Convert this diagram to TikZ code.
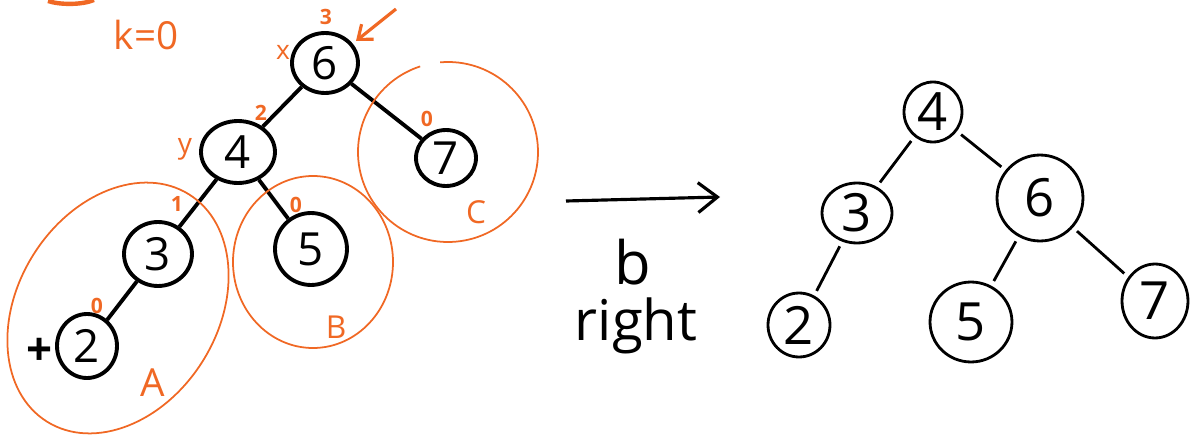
\documentclass[tikz,border=0pt]{standalone}
\usepackage{fontspec}
\setmainfont{Open Sans}
\usetikzlibrary{arrows.meta,positioning,shapes.geometric}
\definecolor{marker}{RGB}{240,104,36}
\tikzset{
    treenode/.style={draw, ellipse, line width=2.2pt, inner sep=0pt, font=\fontsize{26}{26}\selectfont},
    newnode/.style={draw, ellipse, line width=1.6pt, inner sep=0pt, font=\fontsize{30}{30}\selectfont},
    dims/.style 2 args={minimum width=#1*0.04cm, minimum height=#2*0.04cm},
    tree/.style={line width=2.2pt},
    newtree/.style={line width=1.6pt, shorten <=3pt, shorten >=3pt},
    note/.style={marker, font=\fontsize{12}{12}\selectfont\bfseries},
    group/.style={marker, line width=1pt},
}

\begin{document}
\begin{tikzpicture}[x=0.02cm, y=-0.02cm]
    \useasboundingbox (0,0) rectangle (1191,436);

    % Left tree, before the rotation
    \node[treenode, dims={33}{30}] (l6) at (325,63) {6};
    \node[treenode, dims={37}{31}] (l4) at (238,152) {4};
    \node[treenode, dims={30}{28}] (l7) at (446,158) {7};
    \node[treenode, dims={34}{32}] (l3) at (158,254) {3};
    \node[treenode, dims={36}{36}] (l5) at (311,249) {5};
    \node[treenode, dims={30}{32}] (l2) at (87,346) {2};
    \draw[tree] (l6) -- (l4);
    \draw[tree] (l6) -- (l7);
    \draw[tree] (l4) -- (l3);
    \draw[tree] (l4) -- (l5);
    \draw[tree] (l3) -- (l2);
    \node[font=\fontsize{26}{26}\selectfont\bfseries] (plus) at (40,352) {+};

    % Heights and names
    \node[note, font=\fontsize{22}{22}\selectfont] (krank) at (146,35) {k=0};
    \node[note] (h6) at (326,17) {3};
    \node[note, font=\fontsize{15}{15}\selectfont] (nx) at (283,52) {x};
    \node[note] (h4) at (261,113) {2};
    \node[note, font=\fontsize{16}{16}\selectfont] (ny) at (185,149) {y};
    \node[note] (h3) at (177,204) {1};
    \node[note] (h5) at (296,205) {0};
    \node[note] (h2) at (97,306) {0};
    \node[note] (h7) at (427,119) {0};

    % Arrow at the unbalanced node
    \coordinate (pstart) at (396,9);
    \coordinate (pend) at (356,41);
    \draw[marker, line width=1.8pt, -{Straight Barb[length=7pt, width=11pt]}] (pstart) -- (pend);

    % Subtrees
    \draw[group, rotate around={-32:(118,308)}] (118,308) ellipse [x radius=100, y radius=134];
    \draw[group] (313,262) ellipse [x radius=80, y radius=86];
    \draw[group] (448,152) ++(-95:90) arc [start angle=-95, end angle=252, radius=90];
    \node[note, font=\fontsize{22}{22}\selectfont] (ga) at (153,383) {A};
    \node[note, font=\fontsize{18}{18}\selectfont] (gb) at (336,327) {B};
    \node[note, font=\fontsize{18}{18}\selectfont] (gc) at (476,212) {C};

    % Cut-off mark at the top
    \draw[marker, line width=2.5pt] (48,1) .. controls (60,5) and (82,5) .. (94,0);

    % Rotation
    \coordinate (rfrom) at (566,201);
    \coordinate (rto) at (720,197);
    \draw[line width=1.8pt, -{Straight Barb[length=11pt, width=17pt]}] (rfrom) -- (rto);
    \node[font=\fontsize{34}{34}\selectfont] (rb) at (633,262) {b};
    \node[font=\fontsize{32}{32}\selectfont] (rname) at (636,326) {right};

    % Right tree, after the rotation
    \node[newnode, dims={29}{30}] (r4) at (933,112) {4};
    \node[newnode, dims={35}{30}] (r3) at (857,213) {3};
    \node[newnode, dims={43}{43}] (r6) at (1040,198) {6};
    \node[newnode, dims={31}{32}] (r2) at (799,325) {2};
    \node[newnode, dims={41}{40}] (r5) at (971,322) {5};
    \node[newnode, dims={33}{37}] (r7) at (1155,301) {7};
    \draw[newtree] (r4) -- (r3);
    \draw[newtree] (r4) -- (r6);
    \draw[newtree] (r3) -- (r2);
    \draw[newtree] (r6) -- (r5);
    \draw[newtree] (r6) -- (r7);
\end{tikzpicture}
\end{document}
